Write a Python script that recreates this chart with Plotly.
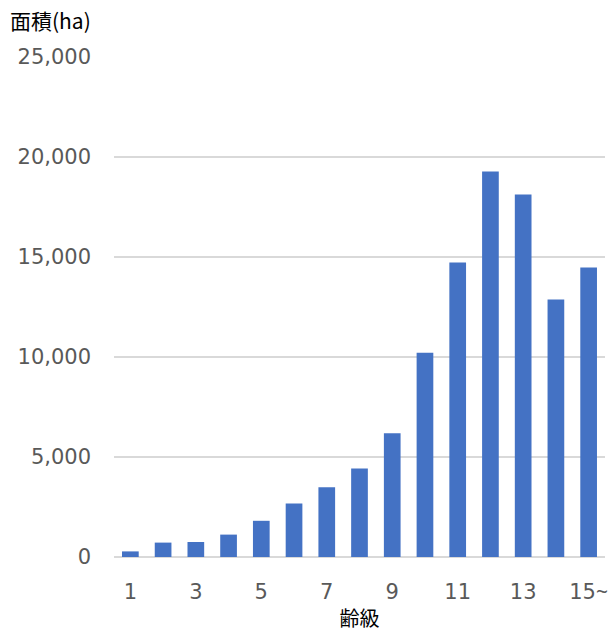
import plotly.graph_objects as go

categories = ["1", "2", "3", "4", "5", "6", "7", "8", "9", "10", "11", "12", "13", "14", "15~"]
area_ha = [280, 720, 750, 1120, 1810, 2680, 3490, 4430, 6190, 10210, 14720, 19270, 18130, 12880, 14470]
x_tick_values = ["1", "3", "5", "7", "9", "11", "13", "15~"]
x_tick_labels = ["1", "3", "5", "7", "9", "11", "13", "15<span style=\"font-family:'Noto Sans'\">~</span>"]
y_tick_values = [0, 5000, 10000, 15000, 20000, 25000]

CJK = "Noto Sans CJK JP"
NUM = "DejaVu Sans"

W, H = 610, 632

fig = go.Figure(
    go.Bar(
        x=categories,
        y=area_ha,
        marker=dict(color="#4472C4", line=dict(width=0)),
        hoverinfo="skip",
    )
)

fig.update_layout(
    width=W,
    height=H,
    margin=dict(l=114, r=5, t=57, b=75, autoexpand=False),
    paper_bgcolor="white",
    plot_bgcolor="white",
    bargap=0.49,
    showlegend=False,
    font=dict(family=NUM, color="#595959", size=21),
    title=dict(
        text="面積(ha)",
        xref="container",
        yref="container",
        x=10 / W,
        xanchor="left",
        y=1 - 22 / H,
        yanchor="middle",
        font=dict(family=CJK, size=21, color="#000000"),
    ),
)

fig.update_xaxes(
    type="category",
    tickmode="array",
    tickvals=x_tick_values,
    ticktext=x_tick_labels,
    showgrid=False,
    showline=False,
    ticks="",
    automargin=False,
    ticklabelstandoff=20,
    tickfont=dict(family=NUM, size=21, color="#595959"),
    title=dict(text="齢級", standoff=12, font=dict(family=CJK, size=20, color="#000000")),
)

fig.update_yaxes(
    range=[0, 25000],
    tickmode="array",
    tickvals=y_tick_values,
    tickformat=",",
    showgrid=True,
    gridcolor="#d9d9d9",
    gridwidth=1.5,
    zeroline=True,
    zerolinecolor="#d9d9d9",
    zerolinewidth=2,
    showline=False,
    ticks="",
    automargin=False,
    ticklabelstandoff=22,
    tickfont=dict(family=NUM, size=21, color="#595959"),
)

fig.write_html(
    "out.html",
    config={"displayModeBar": False},
    post_script="document.body.style.margin='0';document.body.style.overflow='hidden';",
)
